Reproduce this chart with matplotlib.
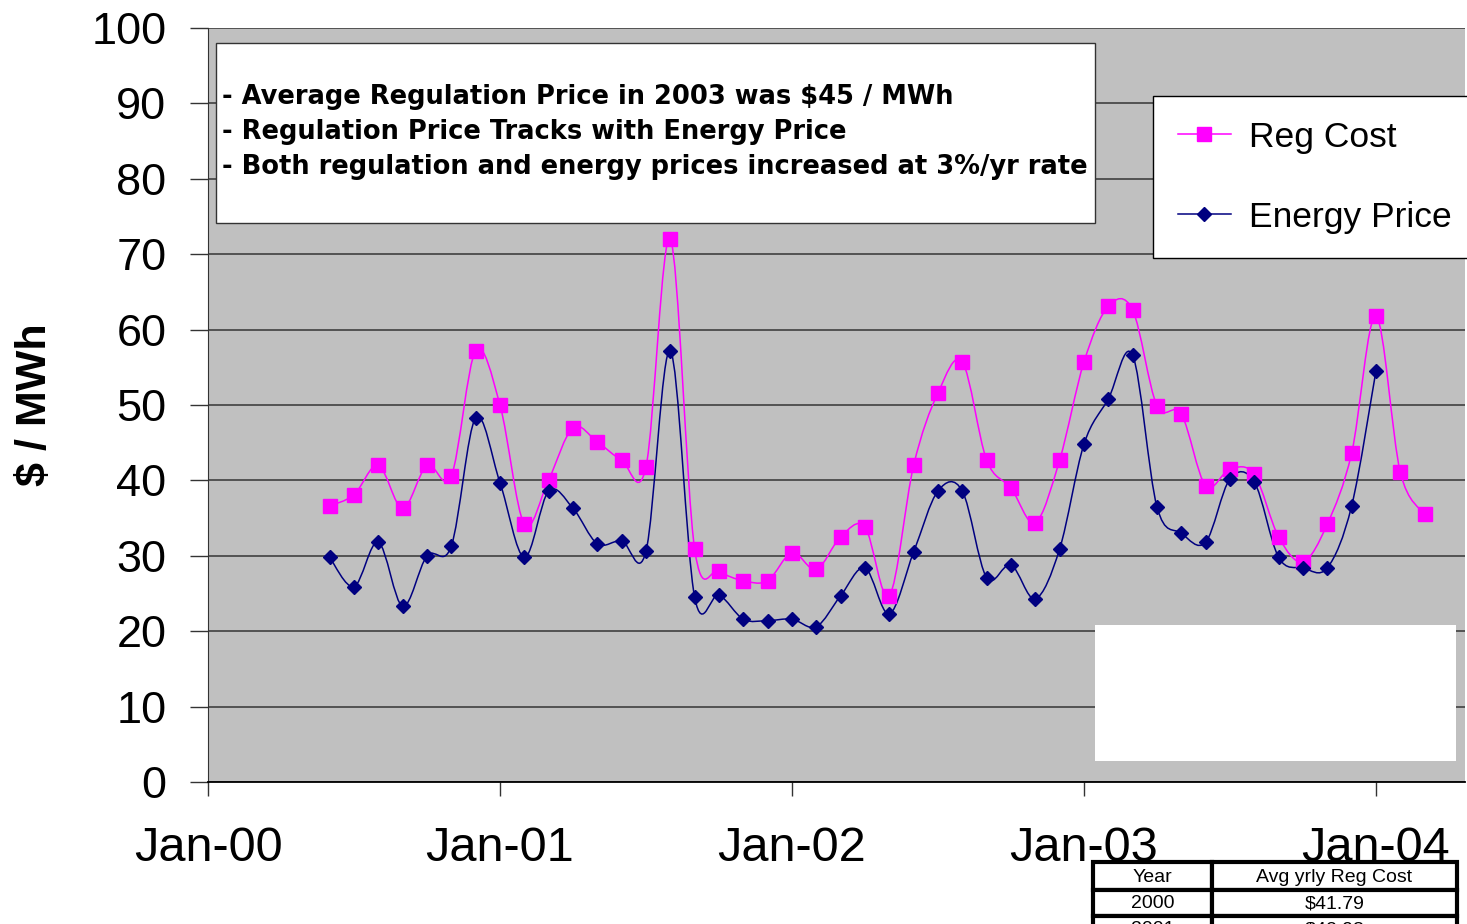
import numpy as np
import pandas as pd
import matplotlib
matplotlib.use("Agg")
import matplotlib.pyplot as plt
from matplotlib.path import Path
from matplotlib.patches import PathPatch, Rectangle
from matplotlib.lines import Line2D
from matplotlib.transforms import Affine2D

# monthly values, Jun-00 onwards
reg_months = pd.date_range("2000-06-01", "2004-03-01", freq="MS")
reg_cost = [36.6, 38.1, 42.0, 36.3, 42.0, 40.6, 57.2, 50.0, 34.2, 40.1,
            47.0, 45.1, 42.7, 41.8, 72.0, 30.9, 28.0, 26.7, 26.7, 30.4,
            28.2, 32.5, 33.8, 24.7, 42.0, 51.6, 55.7, 42.7, 39.0, 34.4,
            42.7, 55.7, 63.1, 62.6, 49.9, 48.8, 39.3, 41.5, 40.8, 32.5,
            29.2, 34.2, 43.6, 61.8, 41.1, 35.5]

energy_months = pd.date_range("2000-06-01", "2004-01-01", freq="MS")
energy_price = [29.8, 25.9, 31.8, 23.3, 30.0, 31.3, 48.3, 39.7, 29.8, 38.6,
                36.3, 31.6, 32.0, 30.6, 57.2, 24.5, 24.8, 21.6, 21.4, 21.6,
                20.6, 24.7, 28.4, 22.3, 30.5, 38.6, 38.6, 27.1, 28.8, 24.3,
                30.9, 44.8, 50.8, 56.6, 36.5, 33.0, 31.8, 40.2, 39.8, 29.8,
                28.4, 28.4, 36.6, 54.5]

tick_labels = ["Jan-00", "Jan-01", "Jan-02", "Jan-03", "Jan-04"]
notes = ["- Average Regulation Price in 2003 was $45 / MWh",
         "- Regulation Price Tracks with Energy Price",
         "- Both regulation and energy prices increased at 3%/yr rate"]
table_rows = [("Year", "Avg yrly Reg Cost"), ("2000", "$41.79"), ("2001", "$42.98")]

W, H = 1467, 924
PINK = "#FF00FF"
NAVY = "#000080"


def month_index(dates):
    return np.array([(d.year - 2000) * 12 + d.month - 1 for d in dates], dtype=float)


def smooth_path(x, y):
    # excel-style smoothed line: catmull-rom segments as cubic beziers
    pts = np.column_stack([x, y])
    n = len(pts)
    verts = [pts[0]]
    codes = [Path.MOVETO]
    for i in range(n - 1):
        p0 = pts[i - 1] if i > 0 else pts[i]
        p1, p2 = pts[i], pts[i + 1]
        p3 = pts[i + 2] if i + 2 < n else pts[i + 1]
        verts += [p1 + (p2 - p0) / 6, p2 - (p3 - p1) / 6, p2]
        codes += [Path.CURVE4] * 3
    return Path(verts, codes)


plt.rcParams["font.family"] = ["Liberation Sans", "DejaVu Sans"]

fig = plt.figure(figsize=(W / 100, H / 100), dpi=100)
px = Affine2D().scale(1 / W, -1 / H).translate(0, 1) + fig.transFigure

ax = fig.add_axes([208 / W, (H - 782) / H, (1465 - 208) / W, (782 - 28) / H])
ax.set_facecolor("#C0C0C0")
ax.set_xlim(0, 51.66)
ax.set_ylim(0, 100)
ax.set_yticks(range(0, 101, 10))
ax.set_xticks([0, 12, 24, 36, 48])
ax.set_xticklabels(tick_labels)
ax.tick_params(axis="y", direction="out", length=13, width=1, color="#333333",
               labelsize=32.5, pad=17)
ax.tick_params(axis="x", direction="out", length=10, width=1, color="#333333",
               labelsize=35, pad=21.5)
ax.grid(axis="y", color="#4a4a4a", linewidth=1.3)
ax.set_axisbelow(True)
for side in ("top", "right"):
    ax.spines[side].set_visible(False)
ax.spines["left"].set_color("#333333")
ax.spines["bottom"].set_color("black")
ax.spines["bottom"].set_linewidth(1.3)

xr = month_index(reg_months)
xe = month_index(energy_months)

ax.add_patch(PathPatch(smooth_path(xr, reg_cost), facecolor="none",
                       edgecolor=PINK, linewidth=1.1, zorder=3))
ax.add_patch(PathPatch(smooth_path(xe, energy_price), facecolor="none",
                       edgecolor=NAVY, linewidth=1.1, zorder=4))
ax.plot(xr, reg_cost, ls="none", marker="s", ms=10, color=PINK, zorder=5)
ax.plot(xe, energy_price, ls="none", marker="D", ms=7, color=NAVY, zorder=6)

handles = [Line2D([], [], color=PINK, lw=1.1, marker="s", ms=10),
           Line2D([], [], color=NAVY, lw=1.1, marker="D", ms=7)]
leg = ax.legend(handles, ["Reg Cost", "Energy Price"], loc="upper left",
                bbox_to_anchor=(1153 / W, 1 - 96 / H - 0.01, (1490 - 1153) / W, 0.01),
                bbox_transform=fig.transFigure, mode="expand", borderaxespad=0,
                fontsize=25.5, frameon=True, fancybox=False, edgecolor="black",
                framealpha=1, handlelength=1.5, handletextpad=0.5,
                labelspacing=1.32, borderpad=0.7, numpoints=1)
leg.get_frame().set_linewidth(1.0)

# note box
fig.add_artist(Rectangle((216, 43), 1095 - 216, 223 - 43, transform=px,
                         facecolor="white", edgecolor="#333333", lw=1.0))
for i, line in enumerate(notes):
    fig.text(222, 97 + 35 * i, line, transform=px, fontsize=18.5,
             fontweight="bold", family="DejaVu Sans", ha="left", va="center")

# blank white box in the lower right
fig.add_artist(Rectangle((1095, 625), 1456 - 1095, 761 - 625, transform=px,
                         facecolor="white", edgecolor="none"))

fig.text(35, 405, "$ / MWh", transform=px, fontsize=31, fontweight="bold",
         rotation=90, ha="center", va="center")

# small table, cut off by the bottom edge
row_edges = [862, 890, 916, 942]
col_edges = [1093, 1212, 1457]
for r, (year, cost) in enumerate(table_rows):
    top, bot = row_edges[r], row_edges[r + 1]
    for c, txt in enumerate((year, cost)):
        fig.add_artist(Rectangle((col_edges[c], top), col_edges[c + 1] - col_edges[c],
                                 bot - top, transform=px, facecolor="white",
                                 edgecolor="black", lw=3.0))
        fig.text((col_edges[c] + col_edges[c + 1]) / 2, (top + bot) / 2 + 1, txt,
                 transform=px, fontsize=14, ha="center", va="center")

fig.savefig("out.png", dpi=100)
